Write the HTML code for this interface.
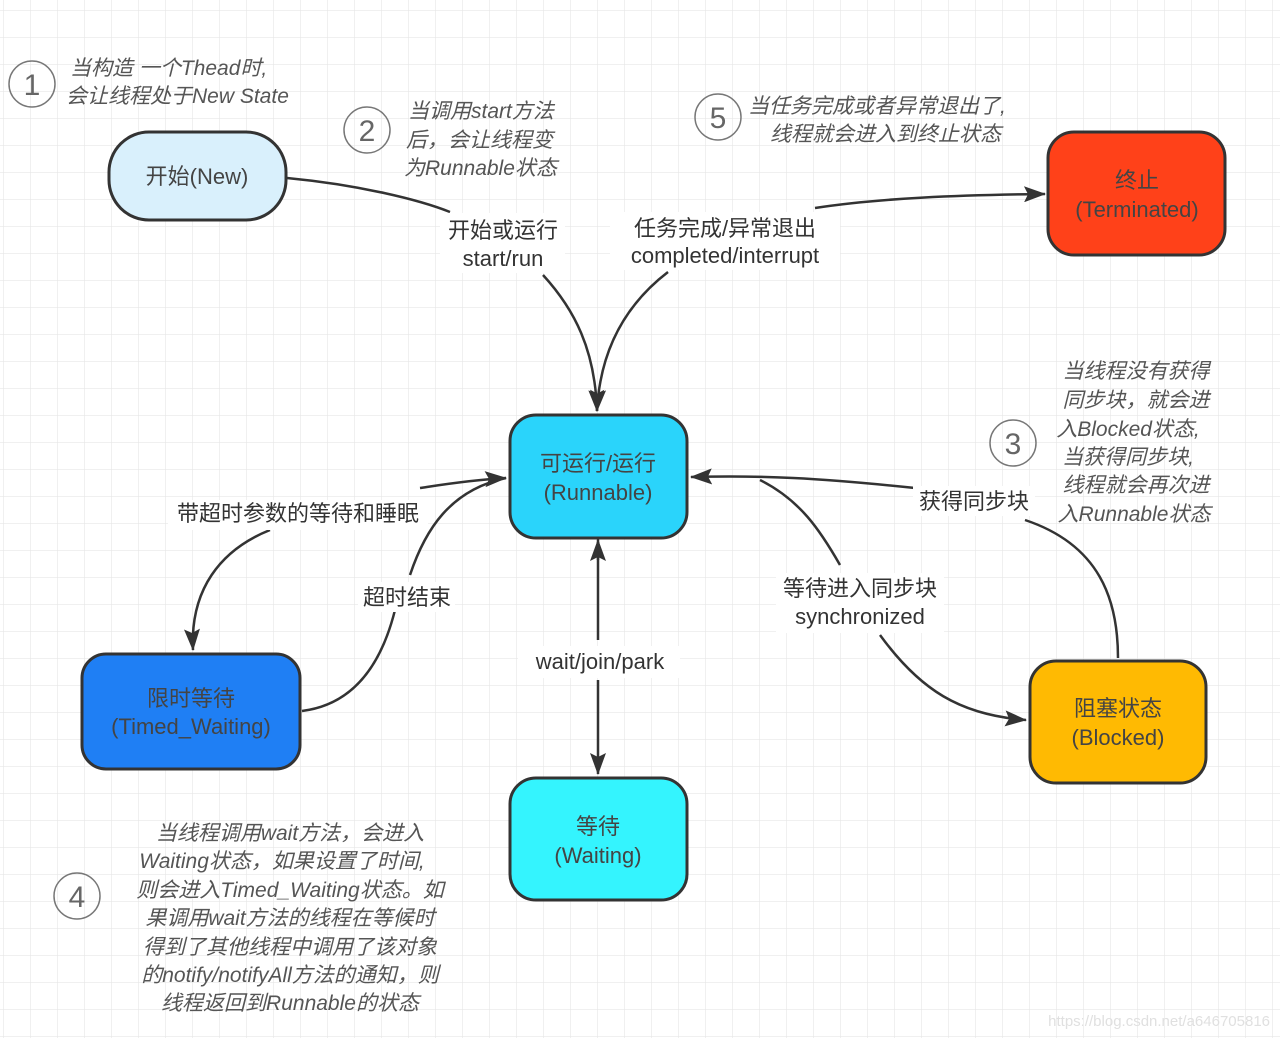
<!DOCTYPE html>
<html><head><meta charset="utf-8"><style>
html,body{margin:0;padding:0;background:#fff;}
svg{display:block;}
text{font-family:"Liberation Sans","Noto Sans CJK SC",sans-serif;fill:#444;}
.it{font-style:italic;font-size:21px;fill:#555;}
.lb{font-size:22px;fill:#333;}
.nd{font-size:22px;fill:#444;}
</style></head><body>
<svg width="1280" height="1038" viewBox="0 0 1280 1038" xmlns="http://www.w3.org/2000/svg">
<defs>
<pattern id="g" x="3" y="10" width="27" height="27" patternUnits="userSpaceOnUse">
<path d="M0 0H27M0 0V27" stroke="#e6e6e6" stroke-width="1.2" fill="none"/>
</pattern>
<marker id="a" markerWidth="10" markerHeight="10" refX="9" refY="5" orient="auto" markerUnits="userSpaceOnUse" viewBox="0 0 10 10">
<path d="M0 0L10 5L0 10L2 5z" fill="#333"/>
</marker>
<marker id="ab" markerWidth="22" markerHeight="16" refX="21" refY="8" orient="auto" markerUnits="userSpaceOnUse" viewBox="0 0 22 16">
<path d="M0 0L22 8L0 16L4 8z" fill="#333"/>
</marker>
</defs>
<rect width="1280" height="1038" fill="url(#g)"/>

<!-- connectors -->
<g fill="none" stroke="#333" stroke-width="2.5">
<path d="M287 178 C360 185 420 200 450 212"/>
<path d="M543 275 C575 310 595 350 597 411" marker-end="url(#ab)"/>
<path d="M668 272 C625 305 600 350 597 411" marker-end="url(#ab)"/>
<path d="M815 208 C880 198 960 195 1045 194" marker-end="url(#ab)"/>
<path d="M270 530 C220 550 190 590 193 650" marker-end="url(#ab)"/>
<path d="M420 488 C440 485 470 480 506 478" marker-end="url(#ab)"/>
<path d="M302 711 C350 705 380 670 395 610"/>
<path d="M410 575 C425 530 450 490 506 478"/>
<path d="M598 542 L598 640" marker-start="url(#ab)"/>
<path d="M598 680 L598 774" marker-end="url(#ab)"/>
<path d="M598 540 L598 560" marker-end="url(#ab)" transform="rotate(180 598 550)"/>
<path d="M915 488 C820 478 760 475 691 477" marker-end="url(#ab)"/>
<path d="M1118 658 C1118 600 1100 545 1025 520"/>
<path d="M760 480 C800 500 820 530 840 565"/>
<path d="M880 635 C920 690 960 715 1026 720" marker-end="url(#ab)"/>
</g>

<!-- nodes -->
<g stroke="#333" stroke-width="3">
<rect x="109" y="132" width="177" height="88" rx="40" fill="#d9f0fc"/>
<rect x="1048" y="132" width="177" height="123" rx="26" fill="#ff4119"/>
<rect x="510" y="415" width="177" height="123" rx="26" fill="#2ad4fb"/>
<rect x="82" y="654" width="218" height="115" rx="24" fill="#1f7ff4"/>
<rect x="510" y="778" width="177" height="122" rx="26" fill="#34f4fe"/>
<rect x="1030" y="661" width="176" height="122" rx="26" fill="#ffba02"/>
</g>
<g text-anchor="middle" class="nd">
<text x="197" y="184" class="nd">开始(New)</text>
<text x="1137" y="188" class="nd">终止</text>
<text x="1137" y="217" class="nd">(Terminated)</text>
<text x="598" y="471" class="nd">可运行/运行</text>
<text x="598" y="500" class="nd">(Runnable)</text>
<text x="191" y="706" class="nd">限时等待</text>
<text x="191" y="734" class="nd">(Timed_Waiting)</text>
<text x="598" y="834" class="nd">等待</text>
<text x="598" y="863" class="nd">(Waiting)</text>
<text x="1118" y="716" class="nd">阻塞状态</text>
<text x="1118" y="745" class="nd">(Blocked)</text>
</g>

<!-- edge labels -->
<g text-anchor="middle" class="lb">
<rect x="440" y="213" width="125" height="60" fill="#fff"/>
<text x="503" y="238" class="lb">开始或运行</text>
<text x="503" y="266" class="lb">start/run</text>
<rect x="610" y="212" width="230" height="58" fill="#fff"/>
<text x="725" y="236" class="lb">任务完成/异常退出</text>
<text x="725" y="263" class="lb">completed/interrupt</text>
<rect x="168" y="500" width="260" height="30" fill="#fff"/>
<text x="298" y="521" class="lb">带超时参数的等待和睡眠</text>
<rect x="358" y="582" width="97" height="30" fill="#fff"/>
<text x="407" y="605" class="lb">超时结束</text>
<rect x="518" y="646" width="162" height="32" fill="#fff"/>
<text x="600" y="669" class="lb">wait/join/park</text>
<rect x="776" y="573" width="168" height="60" fill="#fff"/>
<text x="860" y="596" class="lb">等待进入同步块</text>
<text x="860" y="624" class="lb">synchronized</text>
<rect x="913" y="486" width="122" height="30" fill="#fff"/>
<text x="974" y="509" class="lb">获得同步块</text>
</g>

<!-- numbered notes -->
<g fill="none" stroke="#777" stroke-width="1.5">
<circle cx="32" cy="84" r="23"/>
<circle cx="367" cy="130" r="23"/>
<circle cx="1013" cy="443" r="23"/>
<circle cx="77" cy="896" r="23"/>
<circle cx="718" cy="117" r="23"/>
</g>
<g text-anchor="middle" style="font-size:30px">
<text x="32" y="95" style="font-size:30px;fill:#666">1</text>
<text x="367" y="141" style="font-size:30px;fill:#666">2</text>
<text x="1013" y="454" style="font-size:30px;fill:#666">3</text>
<text x="77" y="907" style="font-size:30px;fill:#666">4</text>
<text x="718" y="128" style="font-size:30px;fill:#666">5</text>
</g>
<g class="it">
<text x="70" y="75" class="it">当构造 一个Thead时,</text>
<text x="66" y="103" class="it">会让线程处于New State</text>
<text x="408" y="118" class="it">当调用start方法</text>
<text x="406" y="147" class="it">后，会让线程变</text>
<text x="404" y="175" class="it">为Runnable状态</text>
<text x="748" y="113" class="it">当任务完成或者异常退出了,</text>
<text x="770" y="141" class="it">线程就会进入到终止状态</text>
</g>
<g class="it" text-anchor="middle">
<text x="1136" y="378" class="it">当线程没有获得</text>
<text x="1136" y="407" class="it">同步块，就会进</text>
<text x="1128" y="436" class="it">入Blocked状态,</text>
<text x="1128" y="464" class="it">当获得同步块,</text>
<text x="1136" y="492" class="it">线程就会再次进</text>
<text x="1134" y="521" class="it">入Runnable状态</text>
<text x="290" y="840" class="it">当线程调用wait方法，会进入</text>
<text x="282" y="868" class="it">Waiting状态，如果设置了时间,</text>
<text x="290" y="897" class="it">则会进入Timed_Waiting状态。如</text>
<text x="290" y="925" class="it">果调用wait方法的线程在等候时</text>
<text x="290" y="954" class="it">得到了其他线程中调用了该对象</text>
<text x="290" y="982" class="it">的notify/notifyAll方法的通知，则</text>
<text x="290" y="1010" class="it">线程返回到Runnable的状态</text>
</g>
<text x="1270" y="1026" text-anchor="end" style="font-size:15px;fill:#e0e0e0">https://blog.csdn.net/a646705816</text>
</svg>
</body></html>
